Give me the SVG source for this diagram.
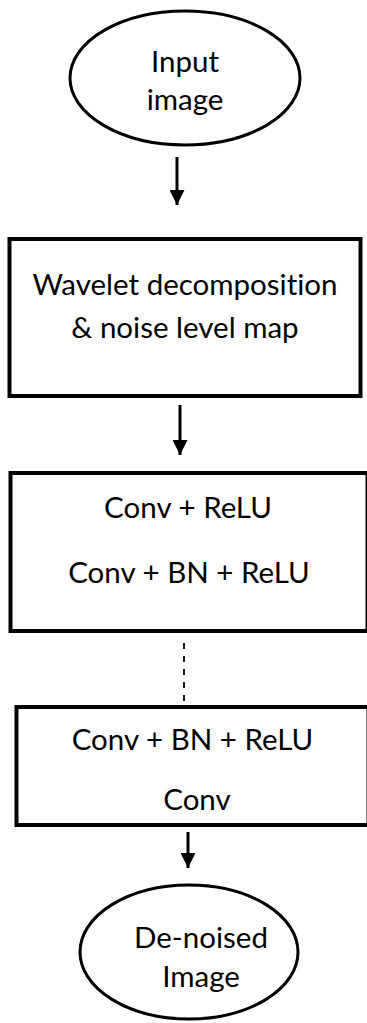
<svg xmlns="http://www.w3.org/2000/svg" width="367" height="1023" viewBox="0 0 367 1023">
  <style>
    .shape { fill: #fff; stroke: #000; }
    .lbl { font-family: Lato, "Liberation Sans", sans-serif; font-size: 29.5px; fill: #000; text-anchor: middle; font-variant-ligatures: none; }
    .flow { stroke: #000; stroke-width: 3; fill: none; }
    .dash { stroke: #000; stroke-width: 1.8; stroke-dasharray: 6 7; fill: none; }
  </style>
  <defs>
    <marker id="head" markerWidth="6" markerHeight="5" refX="5" refY="2.5" orient="auto" markerUnits="strokeWidth">
      <path d="M0,0 L5,2.5 L0,5 Z" fill="#000"/>
    </marker>
    <clipPath id="clipIn"><rect x="0" y="0" width="367" height="115"/></clipPath>
    <clipPath id="clipOut"><rect x="0" y="0" width="367" height="993"/></clipPath>
  </defs>

  <g id="connectors">
    <line class="flow" x1="177" y1="157" x2="177" y2="205" marker-end="url(#head)"/>
    <line class="flow" x1="180" y1="405" x2="180" y2="455" marker-end="url(#head)"/>
    <line class="dash" x1="184" y1="643" x2="184" y2="704"/>
    <line class="flow" x1="188" y1="832" x2="188" y2="868" marker-end="url(#head)"/>
  </g>

  <g id="input-image">
    <ellipse class="shape" cx="185" cy="78" rx="115" ry="67" stroke-width="3"/>
    <g clip-path="url(#clipIn)">
      <text class="lbl" x="185" y="72">Input</text>
      <text class="lbl" x="185" y="110">image</text>
    </g>
  </g>

  <g id="wavelet">
    <rect class="shape" x="9.5" y="239" width="351" height="157" stroke-width="4"/>
    <text class="lbl" x="185" y="295">Wavelet decomposition</text>
    <text class="lbl" x="185" y="338">&amp; noise level map</text>
  </g>

  <g id="conv-block-1">
    <rect class="shape" x="10.5" y="473" width="357" height="158" stroke-width="4"/>
    <text class="lbl" x="188" y="518">Conv + ReLU</text>
    <text class="lbl" x="189" y="583">Conv + BN + ReLU</text>
  </g>

  <g id="conv-block-2">
    <rect class="shape" x="16.5" y="707" width="352" height="118" stroke-width="4"/>
    <text class="lbl" x="192.5" y="750">Conv + BN + ReLU</text>
    <text class="lbl" x="197" y="810">Conv</text>
  </g>

  <g id="denoised-image">
    <ellipse class="shape" cx="189" cy="952" rx="109" ry="67" stroke-width="3"/>
    <g clip-path="url(#clipOut)">
      <text class="lbl" x="201" y="948">De-noised</text>
      <text class="lbl" x="201" y="987">Image</text>
    </g>
  </g>
</svg>
